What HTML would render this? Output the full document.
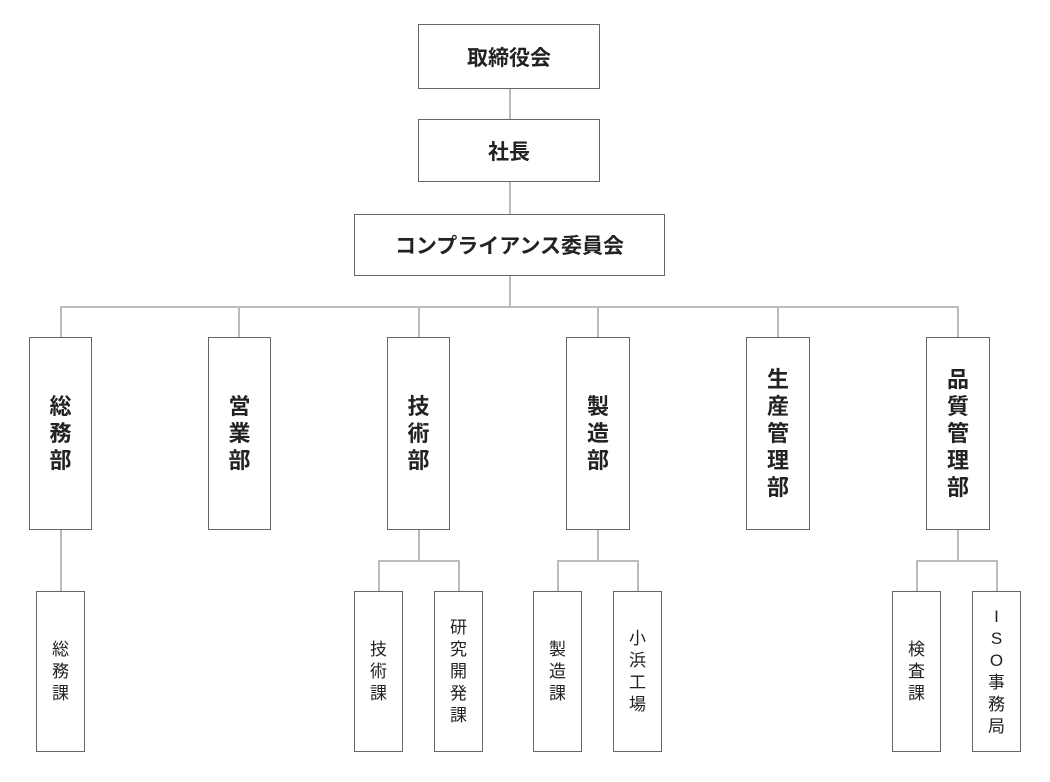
<!DOCTYPE html>
<html><head><meta charset="utf-8"><style>
body{margin:0;width:1050px;height:782px;background:#fff;position:relative;overflow:hidden;font-family:"Liberation Sans","Noto Sans CJK JP",sans-serif;color:#222}
.b{position:absolute;box-sizing:border-box;border:1.5px solid #666;background:#fff;display:flex;align-items:center;justify-content:center;text-align:center}
.h{font-weight:bold;font-size:21px}
.d{font-weight:bold;font-size:22px;line-height:27px}
.s{font-size:17px;line-height:22px}
.l{position:absolute;background:#bbb}
</style></head><body>
<div class="l" style="left:509px;top:89px;width:2px;height:30px"></div>
<div class="l" style="left:509px;top:182px;width:2px;height:32px"></div>
<div class="l" style="left:509px;top:276px;width:2px;height:31px"></div>
<div class="l" style="left:60px;top:306px;width:899px;height:2px"></div>
<div class="l" style="left:60px;top:306px;width:2px;height:31px"></div>
<div class="l" style="left:238px;top:306px;width:2px;height:31px"></div>
<div class="l" style="left:418px;top:306px;width:2px;height:31px"></div>
<div class="l" style="left:597px;top:306px;width:2px;height:31px"></div>
<div class="l" style="left:777px;top:306px;width:2px;height:31px"></div>
<div class="l" style="left:957px;top:306px;width:2px;height:31px"></div>
<div class="l" style="left:60px;top:530px;width:2px;height:61px"></div>
<div class="l" style="left:418px;top:530px;width:2px;height:31px"></div>
<div class="l" style="left:378px;top:560px;width:82px;height:2px"></div>
<div class="l" style="left:378px;top:560px;width:2px;height:31px"></div>
<div class="l" style="left:458px;top:560px;width:2px;height:31px"></div>
<div class="l" style="left:597px;top:530px;width:2px;height:31px"></div>
<div class="l" style="left:557px;top:560px;width:82px;height:2px"></div>
<div class="l" style="left:557px;top:560px;width:2px;height:31px"></div>
<div class="l" style="left:637px;top:560px;width:2px;height:31px"></div>
<div class="l" style="left:957px;top:530px;width:2px;height:31px"></div>
<div class="l" style="left:916px;top:560px;width:82px;height:2px"></div>
<div class="l" style="left:916px;top:560px;width:2px;height:31px"></div>
<div class="l" style="left:996px;top:560px;width:2px;height:31px"></div>

<div class="b h" style="left:418px;top:24px;width:182px;height:65px">取締役会</div>
<div class="b h" style="left:418px;top:119px;width:182px;height:63px">社長</div>
<div class="b h" style="left:354px;top:214px;width:311px;height:62px">コンプライアンス委員会</div>

<div class="b d" style="left:29px;top:337px;width:63px;height:193px">総<br>務<br>部</div>
<div class="b d" style="left:208px;top:337px;width:63px;height:193px">営<br>業<br>部</div>
<div class="b d" style="left:387px;top:337px;width:63px;height:193px">技<br>術<br>部</div>
<div class="b d" style="left:566px;top:337px;width:64px;height:193px">製<br>造<br>部</div>
<div class="b d" style="left:746px;top:337px;width:64px;height:193px">生<br>産<br>管<br>理<br>部</div>
<div class="b d" style="left:926px;top:337px;width:64px;height:193px">品<br>質<br>管<br>理<br>部</div>

<div class="b s" style="left:36px;top:591px;width:49px;height:161px">総<br>務<br>課</div>
<div class="b s" style="left:354px;top:591px;width:49px;height:161px">技<br>術<br>課</div>
<div class="b s" style="left:434px;top:591px;width:49px;height:161px">研<br>究<br>開<br>発<br>課</div>
<div class="b s" style="left:533px;top:591px;width:49px;height:161px">製<br>造<br>課</div>
<div class="b s" style="left:613px;top:591px;width:49px;height:161px">小<br>浜<br>工<br>場</div>
<div class="b s" style="left:892px;top:591px;width:49px;height:161px">検<br>査<br>課</div>
<div class="b s" style="left:972px;top:591px;width:49px;height:161px">I<br>S<br>O<br>事<br>務<br>局</div>
</body></html>
